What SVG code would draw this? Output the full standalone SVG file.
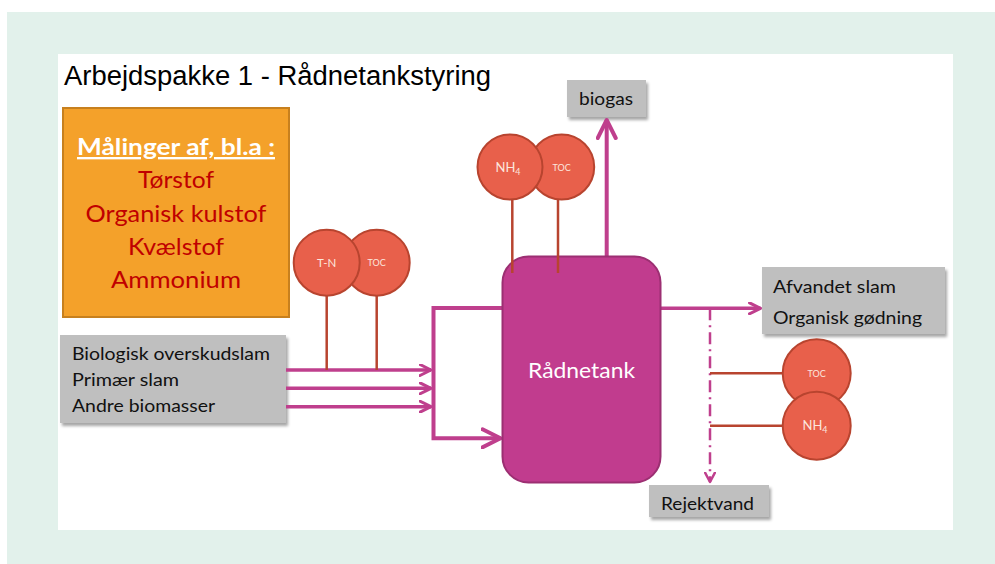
<svg xmlns="http://www.w3.org/2000/svg" width="995" height="564" viewBox="0 0 995 564">
  <style>
    .frame { fill: #E2F1EB; }
    .panel { fill: #FFFFFF; }
    .title { font-family: "Liberation Sans", Arial, sans-serif; font-size: 27px; fill: #000000; }
    .box { fill: #BFBFBF; filter: url(#shadow); }
    .label { font-family: Lato, "Open Sans", sans-serif; font-size: 16.5px; fill: #111111; }
    .orange { fill: #F4A12A; stroke: #C7801E; stroke-width: 2; }
    .head { font-family: Lato, "Open Sans", sans-serif; font-size: 23.5px; font-weight: bold; fill: #FFFFFF; text-decoration: underline; }
    .item { font-family: Lato, "Open Sans", sans-serif; font-size: 23.5px; fill: #C00000; }
    .tank { fill: #C13C8E; stroke: #9C2F72; stroke-width: 2; }
    .tanktxt { font-family: Lato, "Open Sans", sans-serif; font-size: 21px; fill: #FFFFFF; }
    .flow { fill: none; stroke: #BF3F8D; stroke-width: 3.5; }
    .flowb { fill: none; stroke: #BF3F8D; stroke-width: 4; }
    .dash { fill: none; stroke: #BF3F8D; stroke-width: 2.5; stroke-dasharray: 12 5 2 5; }
    .probe { fill: none; stroke: #B8442F; stroke-width: 2.5; }
    .sensor { fill: #E8604B; stroke: #B8442F; stroke-width: 2; }
    .stxt { font-family: Lato, "Open Sans", sans-serif; fill: #FCE6DE; text-anchor: middle; }
  </style>
  <defs>
    <filter id="shadow" x="-10%" y="-10%" width="130%" height="140%">
      <feDropShadow dx="2" dy="3" stdDeviation="1.5" flood-color="#000000" flood-opacity="0.35"/>
    </filter>
    <marker id="arrSm" viewBox="0 0 14 13" markerWidth="14" markerHeight="13" refX="12.5" refY="6.5" orient="auto" markerUnits="userSpaceOnUse">
      <path d="M1.5,1 L12.5,6.5 L1.5,12" fill="none" stroke="#BF3F8D" stroke-width="3" stroke-linejoin="round" stroke-linecap="round"/>
    </marker>
    <marker id="arrLg" viewBox="0 0 22 22" markerWidth="22" markerHeight="22" refX="20" refY="11" orient="auto" markerUnits="userSpaceOnUse">
      <path d="M2,2 L20,11 L2,20" fill="none" stroke="#BF3F8D" stroke-width="4" stroke-linejoin="round" stroke-linecap="round"/>
    </marker>
    <marker id="arrDash" viewBox="0 0 12 12" markerWidth="12" markerHeight="12" refX="10.5" refY="6" orient="auto" markerUnits="userSpaceOnUse">
      <path d="M1,1 L10.5,6 L1,11" fill="none" stroke="#BF3F8D" stroke-width="2.5" stroke-linejoin="round" stroke-linecap="round"/>
    </marker>
  </defs>

  <!-- slide background -->
  <rect class="frame" x="7" y="12" width="988" height="552"/>
  <rect class="panel" x="58" y="54" width="895" height="476"/>

  <text class="title" x="64" y="85" textLength="427" lengthAdjust="spacingAndGlyphs">Arbejdspakke 1 - Rådnetankstyring</text>

  <!-- measurements list -->
  <g id="measurements">
    <rect class="orange" x="63" y="108" width="226" height="209"/>
    <text class="head" x="176" y="155" text-anchor="middle" textLength="198" lengthAdjust="spacingAndGlyphs">Målinger af, bl.a :</text>
    <text class="item" x="176" y="188" text-anchor="middle" textLength="76" lengthAdjust="spacingAndGlyphs">Tørstof</text>
    <text class="item" x="176" y="222" text-anchor="middle" textLength="181" lengthAdjust="spacingAndGlyphs">Organisk kulstof</text>
    <text class="item" x="176" y="255" text-anchor="middle" textLength="96" lengthAdjust="spacingAndGlyphs">Kvælstof</text>
    <text class="item" x="176" y="288" text-anchor="middle" textLength="130" lengthAdjust="spacingAndGlyphs">Ammonium</text>
  </g>

  <!-- feed streams -->
  <g id="inputs">
    <rect class="box" x="60" y="335" width="226" height="88"/>
    <text class="label" x="72" y="360" textLength="198" lengthAdjust="spacingAndGlyphs">Biologisk overskudslam</text>
    <text class="label" x="72" y="386" textLength="107" lengthAdjust="spacingAndGlyphs">Primær slam</text>
    <text class="label" x="72" y="412" textLength="143" lengthAdjust="spacingAndGlyphs">Andre biomasser</text>
  </g>

  <g id="biogas">
    <rect class="box" x="567" y="80" width="79" height="37"/>
    <text class="label" x="579" y="105" font-size="18" textLength="54" lengthAdjust="spacingAndGlyphs">biogas</text>
  </g>

  <g id="dewatered">
    <rect class="box" x="762" y="267" width="183" height="67"/>
    <text class="label" x="773" y="293" textLength="123" lengthAdjust="spacingAndGlyphs">Afvandet slam</text>
    <text class="label" x="773" y="324" textLength="149" lengthAdjust="spacingAndGlyphs">Organisk gødning</text>
  </g>

  <g id="reject">
    <rect class="box" x="649" y="485" width="120" height="32"/>
    <text class="label" x="661" y="510" textLength="93" lengthAdjust="spacingAndGlyphs">Rejektvand</text>
  </g>

  <!-- flows between units -->
  <g id="connectors">
    <path class="flow" d="M286,370 H431" marker-end="url(#arrSm)"/>
    <path class="flow" d="M286,388.3 H431" marker-end="url(#arrSm)"/>
    <path class="flow" d="M286,406.7 H431" marker-end="url(#arrSm)"/>
    <path class="flowb" d="M502,308 H433.5 V438.3 H500.5" marker-end="url(#arrLg)"/>
    <path class="flowb" d="M606.7,257 V120" marker-end="url(#arrLg)"/>
    <path class="flow" d="M661,308.3 H760.5" marker-end="url(#arrSm)"/>
    <path class="dash" d="M710,308.3 V482" marker-end="url(#arrDash)"/>
  </g>

  <g id="digester">
    <rect class="tank" x="502.5" y="256.5" width="158" height="226" rx="26" ry="26"/>
    <text class="tanktxt" x="581.5" y="377.5" text-anchor="middle" textLength="107" lengthAdjust="spacingAndGlyphs">Rådnetank</text>
  </g>

  <!-- sensor probes -->
  <g id="probes">
    <path class="probe" d="M326.7,262.7 V370"/>
    <path class="probe" d="M376.7,262.7 V370"/>
    <path class="probe" d="M512.3,167 V273"/>
    <path class="probe" d="M558,167 V273"/>
    <path class="probe" d="M710,373.3 H800"/>
    <path class="probe" d="M710,425.7 H800"/>
  </g>

  <g id="sensor-toc-feed">
    <circle class="sensor" cx="376.7" cy="262.7" r="33"/>
    <text class="stxt" x="376.7" y="266" font-size="9">TOC</text>
  </g>
  <g id="sensor-tn-feed">
    <circle class="sensor" cx="326.7" cy="262.7" r="33"/>
    <text class="stxt" x="326.7" y="267" font-size="11.5">T-N</text>
  </g>

  <g id="sensor-toc-tank">
    <circle class="sensor" cx="561.7" cy="167" r="32.5"/>
    <text class="stxt" x="561.7" y="170.5" font-size="9">TOC</text>
  </g>
  <g id="sensor-nh4-tank">
    <circle class="sensor" cx="510" cy="167" r="32.5"/>
    <text class="stxt" x="508" y="172" font-size="13">NH<tspan font-size="9" dy="3">4</tspan></text>
  </g>

  <g id="sensor-toc-reject">
    <circle class="sensor" cx="816.7" cy="373.3" r="34"/>
    <text class="stxt" x="816.7" y="376.5" font-size="9">TOC</text>
  </g>
  <g id="sensor-nh4-reject">
    <circle class="sensor" cx="816.7" cy="425.7" r="34"/>
    <text class="stxt" x="815" y="430" font-size="13">NH<tspan font-size="9" dy="3">4</tspan></text>
  </g>
</svg>
